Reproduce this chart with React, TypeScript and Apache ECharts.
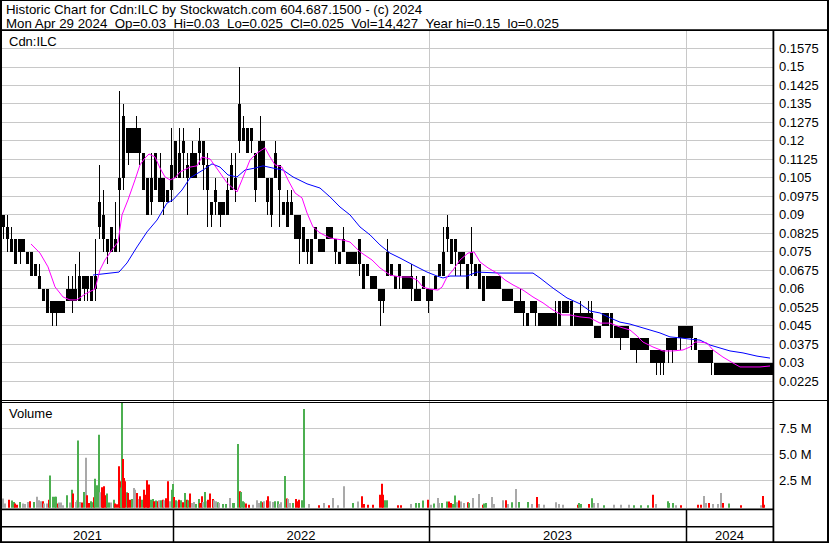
import React, { useEffect, useRef } from "react";
import * as echarts from "echarts";

const TITLE = "Historic Chart for Cdn:ILC by Stockwatch.com 604.687.1500 - (c) 2024";
const QUOTE = "Mon Apr 29 2024  Op=0.03  Hi=0.03  Lo=0.025  Cl=0.025  Vol=14,427  Year hi=0.15  lo=0.025";
const SYMBOL = "Cdn:ILC";
const VOLUME_TITLE = "Volume";

const DAYS_PER_BAR = 4; // each drawn bar groups 4 trading days
const TOTAL_DAYS = 771;
const YEARS = ["2021", "2022", "2023", "2024"];
const YEAR_STARTS = [171, 427, 684]; // trading-day index where 2022, 2023, 2024 begin

// Price bars (one per 4 trading days): dense range (body) and extremes (wicks)
const bodyLow = [
  0.085, 0.08, 0.075, 0.07, 0.075, 0.075, 0.07, 0.065, 0.065, 0.06,
  0.055, 0.05, 0.05, 0.05, 0.05, 0.05, 0.055, 0.055, 0.055, 0.055,
  0.06, 0.06, 0.055, 0.06, 0.085, 0.08, 0.075, 0.075, 0.075, 0.10,
  0.105, 0.115, 0.115, 0.115, 0.115, 0.10, 0.09, 0.095, 0.10, 0.095,
  0.095, 0.095, 0.10, 0.105, 0.105, 0.115, 0.105, 0.105, 0.105, 0.115,
  0.11, 0.10, 0.09, 0.095, 0.09, 0.09, 0.09, 0.10, 0.10, 0.12,
  0.12, 0.115, 0.12, 0.10, 0.105, 0.105, 0.095, 0.09, 0.105, 0.10,
  0.09, 0.085, 0.09, 0.08, 0.08, 0.075, 0.075, 0.07, 0.08, 0.075,
  0.075, 0.08, 0.08, 0.075, 0.07, 0.075, 0.07, 0.07, 0.07, 0.07,
  0.06, 0.065, 0.06, 0.06, 0.055, 0.055, 0.065, 0.065, 0.06, 0.065,
  0.06, 0.06, 0.06, 0.055, 0.055, 0.06, 0.055, 0.055, 0.06, 0.065,
  0.065, 0.08, 0.07, 0.075, 0.07, 0.07, 0.06, 0.07, 0.065, 0.06,
  0.055, 0.06, 0.06, 0.06, 0.06, 0.055, 0.055, 0.055, 0.05, 0.05,
  0.05, 0.045, 0.05, 0.05, 0.045, 0.045, 0.045, 0.045, 0.045, 0.045,
  0.05, 0.05, 0.045, 0.045, 0.045, 0.045, 0.045, 0.045, 0.04, 0.04,
  0.045, 0.045, 0.04, 0.04, 0.04, 0.04, 0.04, 0.035, 0.035, 0.035,
  0.035, 0.035, 0.03, 0.03, 0.03, 0.03, 0.035, 0.035, 0.035, 0.04,
  0.04, 0.04, 0.04, 0.035, 0.03, 0.03, 0.03, 0.03, 0.025, 0.025,
  0.025, 0.025, 0.025, 0.025, 0.025, 0.025, 0.025, 0.025, 0.025, 0.025,
  0.025, 0.025, 0.025,
];
const bodyHigh = [
  0.09, 0.085, 0.08, 0.08, 0.08, 0.08, 0.075, 0.075, 0.07, 0.065,
  0.06, 0.06, 0.055, 0.055, 0.055, 0.055, 0.06, 0.06, 0.06, 0.065,
  0.065, 0.065, 0.065, 0.065, 0.095, 0.09, 0.08, 0.085, 0.08, 0.105,
  0.13, 0.125, 0.125, 0.125, 0.125, 0.115, 0.105, 0.105, 0.115, 0.105,
  0.105, 0.10, 0.11, 0.12, 0.115, 0.12, 0.11, 0.115, 0.115, 0.12,
  0.12, 0.11, 0.095, 0.10, 0.095, 0.095, 0.10, 0.11, 0.105, 0.135,
  0.125, 0.125, 0.125, 0.115, 0.12, 0.12, 0.105, 0.105, 0.115, 0.11,
  0.095, 0.095, 0.095, 0.09, 0.09, 0.085, 0.08, 0.08, 0.085, 0.08,
  0.08, 0.085, 0.085, 0.08, 0.075, 0.08, 0.075, 0.075, 0.075, 0.08,
  0.07, 0.07, 0.065, 0.065, 0.06, 0.06, 0.075, 0.07, 0.065, 0.07,
  0.065, 0.065, 0.065, 0.06, 0.06, 0.065, 0.06, 0.06, 0.065, 0.07,
  0.075, 0.085, 0.08, 0.08, 0.075, 0.075, 0.07, 0.075, 0.07, 0.07,
  0.065, 0.065, 0.065, 0.065, 0.065, 0.06, 0.06, 0.06, 0.055, 0.055,
  0.055, 0.05, 0.055, 0.055, 0.05, 0.05, 0.05, 0.05, 0.05, 0.055,
  0.055, 0.055, 0.055, 0.05, 0.05, 0.05, 0.05, 0.05, 0.045, 0.045,
  0.05, 0.05, 0.05, 0.045, 0.045, 0.045, 0.045, 0.04, 0.04, 0.04,
  0.04, 0.04, 0.035, 0.035, 0.035, 0.035, 0.04, 0.04, 0.04, 0.045,
  0.045, 0.045, 0.045, 0.04, 0.035, 0.035, 0.035, 0.035, 0.03, 0.03,
  0.03, 0.03, 0.03, 0.03, 0.03, 0.03, 0.03, 0.03, 0.03, 0.03,
  0.03, 0.03, 0.03,
];
const lowPrice = [
  0.08, 0.075, 0.075, 0.07, 0.07, 0.075, 0.07, 0.065, 0.065, 0.06,
  0.055, 0.05, 0.045, 0.045, 0.05, 0.05, 0.055, 0.05, 0.055, 0.055,
  0.055, 0.055, 0.055, 0.055, 0.08, 0.075, 0.07, 0.075, 0.075, 0.075,
  0.10, 0.11, 0.115, 0.115, 0.11, 0.10, 0.09, 0.09, 0.10, 0.095,
  0.09, 0.095, 0.095, 0.105, 0.105, 0.105, 0.09, 0.105, 0.105, 0.11,
  0.10, 0.085, 0.085, 0.09, 0.085, 0.09, 0.09, 0.10, 0.095, 0.115,
  0.12, 0.115, 0.115, 0.095, 0.105, 0.105, 0.09, 0.085, 0.105, 0.085,
  0.09, 0.085, 0.09, 0.08, 0.07, 0.075, 0.07, 0.07, 0.08, 0.075,
  0.075, 0.08, 0.08, 0.07, 0.07, 0.075, 0.07, 0.07, 0.07, 0.065,
  0.06, 0.065, 0.06, 0.06, 0.045, 0.05, 0.065, 0.065, 0.06, 0.06,
  0.06, 0.06, 0.055, 0.055, 0.055, 0.06, 0.05, 0.055, 0.06, 0.065,
  0.065, 0.075, 0.07, 0.065, 0.065, 0.07, 0.06, 0.065, 0.065, 0.06,
  0.055, 0.06, 0.06, 0.06, 0.06, 0.055, 0.055, 0.055, 0.05, 0.05,
  0.045, 0.045, 0.05, 0.045, 0.045, 0.045, 0.045, 0.045, 0.045, 0.045,
  0.05, 0.05, 0.045, 0.045, 0.045, 0.045, 0.045, 0.045, 0.04, 0.04,
  0.045, 0.045, 0.04, 0.04, 0.035, 0.04, 0.04, 0.035, 0.03, 0.035,
  0.035, 0.035, 0.03, 0.025, 0.025, 0.025, 0.03, 0.03, 0.035, 0.035,
  0.04, 0.04, 0.035, 0.035, 0.03, 0.03, 0.03, 0.025, 0.025, 0.025,
  0.025, 0.025, 0.025, 0.025, 0.025, 0.025, 0.025, 0.025, 0.025, 0.025,
  0.025, 0.025, 0.025,
];
const highPrice = [
  0.09, 0.09, 0.085, 0.08, 0.08, 0.08, 0.075, 0.075, 0.07, 0.07,
  0.06, 0.06, 0.055, 0.055, 0.055, 0.055, 0.065, 0.065, 0.07, 0.075,
  0.065, 0.065, 0.065, 0.08, 0.11, 0.10, 0.08, 0.085, 0.095, 0.14,
  0.135, 0.125, 0.125, 0.13, 0.125, 0.115, 0.105, 0.115, 0.115, 0.115,
  0.105, 0.10, 0.125, 0.12, 0.125, 0.125, 0.115, 0.12, 0.115, 0.125,
  0.12, 0.115, 0.095, 0.105, 0.095, 0.095, 0.105, 0.115, 0.115, 0.15,
  0.13, 0.125, 0.125, 0.115, 0.13, 0.12, 0.105, 0.105, 0.12, 0.11,
  0.095, 0.10, 0.10, 0.09, 0.09, 0.085, 0.08, 0.08, 0.085, 0.08,
  0.08, 0.085, 0.085, 0.08, 0.075, 0.085, 0.075, 0.075, 0.075, 0.08,
  0.07, 0.07, 0.065, 0.065, 0.06, 0.06, 0.08, 0.07, 0.065, 0.07,
  0.065, 0.065, 0.07, 0.065, 0.06, 0.065, 0.06, 0.06, 0.065, 0.07,
  0.085, 0.09, 0.08, 0.08, 0.075, 0.075, 0.07, 0.085, 0.07, 0.07,
  0.065, 0.065, 0.065, 0.065, 0.065, 0.06, 0.06, 0.06, 0.055, 0.06,
  0.055, 0.05, 0.055, 0.055, 0.05, 0.05, 0.05, 0.05, 0.055, 0.055,
  0.055, 0.055, 0.055, 0.05, 0.055, 0.05, 0.055, 0.055, 0.045, 0.045,
  0.05, 0.05, 0.05, 0.045, 0.045, 0.045, 0.045, 0.04, 0.04, 0.04,
  0.04, 0.04, 0.035, 0.035, 0.035, 0.035, 0.04, 0.04, 0.04, 0.045,
  0.045, 0.045, 0.045, 0.04, 0.035, 0.035, 0.035, 0.035, 0.03, 0.03,
  0.03, 0.03, 0.03, 0.03, 0.03, 0.03, 0.03, 0.03, 0.03, 0.03,
  0.03, 0.03, 0.03,
];

// Moving averages: [trading day, price]
const shortMA: [number, number][] = [
  [29, 0.0781], [38, 0.0744], [46, 0.0688], [53, 0.0607], [61, 0.0566], [68, 0.0554], [75, 0.0554],
  [83, 0.0578], [93, 0.0598], [98, 0.0676], [103, 0.0716], [110, 0.0757], [116, 0.0789], [120, 0.0899],
  [126, 0.096], [133, 0.1041], [138, 0.1102], [143, 0.113], [147, 0.1146], [153, 0.1134], [158, 0.1089],
  [163, 0.1053], [168, 0.1041], [173, 0.1049], [178, 0.1073], [188, 0.1093], [195, 0.1098], [200, 0.1134],
  [208, 0.1126], [216, 0.1081], [225, 0.1029], [235, 0.0992], [240, 0.1041], [248, 0.1122], [255, 0.115],
  [263, 0.1171], [268, 0.1134], [273, 0.1102], [280, 0.1093], [286, 0.1041], [293, 0.0988], [300, 0.0968],
  [305, 0.0907], [311, 0.085], [318, 0.0826], [328, 0.0805], [341, 0.0797], [348, 0.0789], [358, 0.0749],
  [370, 0.0716], [378, 0.0684], [388, 0.0655], [398, 0.0647], [408, 0.0647], [415, 0.0635], [421, 0.0606],
  [428, 0.0598], [436, 0.0594], [440, 0.0606], [445, 0.0647], [451, 0.0675], [458, 0.0716], [466, 0.0744],
  [472, 0.0749], [478, 0.0708], [486, 0.0684], [495, 0.0663], [503, 0.0635], [511, 0.0615], [521, 0.0594],
  [531, 0.0566], [541, 0.0542], [551, 0.0513], [560, 0.0493], [568, 0.0493], [578, 0.0485], [588, 0.0481],
  [598, 0.046], [608, 0.046], [618, 0.0444], [628, 0.0432], [635, 0.0408], [641, 0.0383], [651, 0.0363],
  [661, 0.0347], [671, 0.0347], [681, 0.0351], [688, 0.0363], [693, 0.0383], [698, 0.0383], [705, 0.0379],
  [711, 0.0351], [721, 0.0322], [731, 0.0298], [738, 0.0282], [748, 0.0282], [758, 0.0282], [768, 0.0286],
];
const longMA: [number, number][] = [
  [91, 0.0655], [117, 0.0667], [125, 0.0704], [135, 0.0769], [145, 0.083], [155, 0.0878], [165, 0.0947],
  [171, 0.096], [180, 0.1], [188, 0.1049], [201, 0.1081], [210, 0.1106], [218, 0.1093], [226, 0.1061],
  [235, 0.1053], [243, 0.1081], [253, 0.1089], [261, 0.1098], [271, 0.1089], [281, 0.1081], [291, 0.1053],
  [305, 0.1025], [318, 0.1008], [328, 0.0972], [338, 0.0931], [348, 0.0899], [358, 0.085], [368, 0.0818],
  [378, 0.0777], [388, 0.0744], [398, 0.0724], [411, 0.0696], [425, 0.0667], [435, 0.0651], [441, 0.0643],
  [448, 0.0651], [465, 0.0651], [475, 0.0667], [498, 0.0663], [531, 0.0663], [538, 0.0643], [551, 0.0602],
  [565, 0.0562], [578, 0.0538], [588, 0.0509], [598, 0.0501], [608, 0.0481], [618, 0.0464], [628, 0.0456],
  [638, 0.0444], [648, 0.0432], [658, 0.042], [668, 0.0404], [678, 0.04], [688, 0.0395], [698, 0.0391],
  [708, 0.0371], [718, 0.0359], [728, 0.0347], [741, 0.0339], [755, 0.0326], [768, 0.0318],
];

// Volume: [trading day, millions of shares, colour code g=up r=down n=unchanged]
const volumes: [number, number, string][] = [
  [0, 0.74, "n"], [2, 0.26, "n"], [6, 0.64, "r"], [9, 0.55, "g"], [11, 0.41, "g"], [12, 0.26, "r"], [14, 0.16, "r"],
  [17, 0.41, "g"], [20, 0.26, "n"], [22, 0.22, "n"], [25, 0.41, "n"], [27, 0.48, "r"], [31, 0.41, "g"], [34, 0.93, "n"],
  [36, 0.58, "n"], [38, 0.48, "n"], [40, 0.48, "r"], [41, 0.26, "n"], [44, 0.26, "n"], [46, 0.64, "r"], [47, 2.95, "g"],
  [50, 0.93, "g"], [52, 0.93, "g"], [53, 0.93, "g"], [55, 0.26, "r"], [56, 0.36, "n"], [58, 0.36, "n"], [60, 0.1, "n"],
  [64, 1.06, "g"], [67, 0.36, "n"], [69, 1.6, "g"], [70, 1.22, "r"], [73, 0.41, "n"], [74, 0.58, "n"], [75, 6.32, "g"],
  [77, 0.41, "n"], [79, 0.36, "r"], [81, 1.38, "g"], [83, 4.68, "n"], [84, 1.06, "r"], [86, 0.32, "r"], [88, 0.48, "g"],
  [89, 0.38, "g"], [91, 0.87, "r"], [92, 2.66, "g"], [94, 2.02, "g"], [96, 6.89, "g"], [97, 1.35, "n"], [99, 1.83, "r"],
  [100, 1.22, "r"], [101, 1.92, "r"], [103, 1.06, "r"], [104, 1.22, "g"], [106, 0.36, "g"], [108, 0.36, "n"], [111, 0.64, "g"],
  [112, 0.26, "r"], [114, 0.19, "r"], [116, 3.85, "r"], [117, 2.4, "r"], [118, 1.8, "g"], [119, 9.93, "g"], [120, 4.55, "r"],
  [121, 2.72, "r"], [122, 2.4, "r"], [124, 1.35, "g"], [125, 1.28, "r"], [127, 0.64, "r"], [129, 0.7, "g"], [131, 1.76, "n"],
  [132, 1.6, "n"], [134, 1.28, "r"], [136, 0.7, "n"], [137, 0.96, "r"], [139, 0.64, "g"], [141, 1.6, "r"], [142, 1.12, "r"],
  [144, 2.5, "r"], [145, 1.54, "r"], [146, 2.09, "r"], [148, 0.64, "g"], [150, 0.7, "g"], [151, 0.48, "r"], [153, 0.55, "g"],
  [155, 0.48, "r"], [156, 0.58, "n"], [158, 0.58, "g"], [160, 0.64, "r"], [161, 0.58, "n"], [163, 0.77, "r"], [165, 2.4, "r"],
  [167, 0.48, "n"], [169, 1.6, "g"], [170, 2.15, "g"], [171, 0.9, "r"], [173, 0.58, "g"], [175, 0.48, "n"], [176, 0.64, "r"],
  [178, 0.58, "g"], [180, 0.38, "r"], [182, 1.28, "g"], [184, 0.64, "r"], [185, 0.58, "g"], [187, 1.22, "r"], [189, 0.32, "n"],
  [191, 0.41, "n"], [193, 0.22, "g"], [196, 0.7, "g"], [197, 0.32, "r"], [199, 0.96, "r"], [200, 0.41, "n"], [202, 1.38, "g"],
  [204, 0.48, "n"], [205, 0.64, "r"], [207, 1.22, "r"], [210, 0.7, "r"], [211, 0.58, "n"], [213, 0.48, "n"], [215, 0.38, "g"],
  [216, 0.32, "n"], [220, 0.22, "g"], [223, 0.22, "g"], [227, 0.8, "n"], [230, 0.32, "g"], [231, 0.32, "g"], [235, 5.99, "g"],
  [237, 1.44, "r"], [238, 1.38, "g"], [240, 0.48, "g"], [241, 0.38, "g"], [243, 0.26, "r"], [246, 0.16, "r"], [250, 0.16, "n"],
  [254, 0.58, "n"], [256, 0.32, "n"], [258, 0.48, "g"], [260, 0.38, "r"], [261, 0.48, "n"], [264, 0.58, "r"], [265, 0.96, "r"],
  [267, 0.48, "n"], [270, 0.41, "n"], [272, 0.48, "g"], [275, 0.48, "g"], [276, 0.22, "n"], [278, 0.38, "n"], [282, 2.91, "g"],
  [284, 0.74, "r"], [285, 0.7, "n"], [287, 0.32, "n"], [290, 0.32, "g"], [293, 0.7, "r"], [295, 0.48, "r"], [296, 0.64, "r"],
  [299, 0.58, "g"], [301, 9.36, "g"], [306, 0.22, "n"], [316, 0.1, "r"], [321, 0.32, "n"], [326, 0.1, "r"], [330, 0.8, "n"],
  [335, 0.1, "n"], [341, 1.92, "n"], [350, 0.32, "g"], [355, 0.45, "n"], [359, 0.96, "r"], [361, 0.22, "r"], [365, 0.16, "r"],
  [370, 0.16, "r"], [377, 1.12, "r"], [379, 2.18, "r"], [380, 1.12, "r"], [382, 0.58, "g"], [384, 0.58, "g"], [395, 0.1, "r"],
  [398, 0.1, "r"], [408, 0.22, "n"], [413, 0.32, "g"], [416, 0.32, "g"], [420, 0.55, "g"], [425, 0.64, "r"], [428, 0.16, "n"],
  [431, 0.26, "g"], [435, 0.8, "n"], [436, 0.32, "n"], [439, 0.32, "g"], [444, 0.45, "g"], [446, 0.45, "r"], [448, 0.32, "r"],
  [450, 0.22, "g"], [452, 1.03, "g"], [454, 0.38, "n"], [456, 0.55, "r"], [458, 0.45, "n"], [461, 0.32, "n"], [465, 0.38, "r"],
  [466, 0.32, "g"], [470, 0.8, "n"], [476, 1.18, "n"], [480, 0.16, "r"], [481, 0.26, "g"], [483, 0.32, "g"], [489, 0.9, "n"],
  [491, 0.22, "n"], [500, 0.58, "n"], [503, 0.58, "r"], [505, 0.22, "n"], [509, 0.38, "g"], [513, 1.66, "n"], [516, 0.41, "g"],
  [525, 0.41, "g"], [529, 0.22, "n"], [534, 0.9, "r"], [536, 0.22, "n"], [541, 0.16, "n"], [553, 0.38, "n"], [556, 0.22, "n"],
  [560, 0.16, "n"], [575, 0.16, "r"], [576, 0.32, "g"], [578, 0.22, "g"], [586, 0.22, "r"], [589, 0.77, "g"], [591, 0.32, "n"],
  [595, 0.32, "n"], [601, 0.1, "g"], [611, 0.16, "n"], [618, 0.16, "n"], [626, 0.16, "n"], [631, 0.1, "g"], [638, 0.1, "g"],
  [645, 0.1, "g"], [650, 1.12, "r"], [653, 0.22, "n"], [665, 0.48, "g"], [666, 0.32, "g"], [670, 0.32, "g"], [673, 0.1, "n"],
  [678, 0.1, "r"], [695, 0.16, "r"], [698, 0.16, "r"], [701, 0.99, "n"], [703, 0.32, "n"], [706, 0.32, "r"], [710, 0.22, "n"],
  [715, 0.22, "n"], [718, 1.28, "n"], [720, 0.32, "r"], [726, 0.26, "g"], [738, 0.1, "r"], [758, 0.1, "n"], [760, 0.99, "r"],
  [761, 0.16, "r"],
];

const VOL_COLORS: Record<string, string> = { g: "#4caf50", r: "#ff0000", n: "#a9a9a9" };
const FONT = '"Liberation Sans", Arial, Helvetica, sans-serif';
const GRID_COLOR = "#c8c8c8";

const PRICE_MIN = 0.015;
const PRICE_MAX = 0.165;
const PRICE_STEP = 0.0075;
const VOL_MAX = 10e6;
const VOL_STEP = 2.5e6;

export default function App() {
  const ref = useRef<HTMLDivElement>(null);

  useEffect(() => {
    if (!ref.current) return;
    const chart = echarts.init(ref.current, undefined, { renderer: "svg" });

    const candleData = bodyLow.map((_, i) => [i * DAYS_PER_BAR, bodyLow[i], bodyHigh[i], lowPrice[i], highPrice[i]]);
    const volData = volumes.map(([d, m, c]) => ({ value: [d, m * 1e6], itemStyle: { color: VOL_COLORS[c] } }));

    const labelStyle = { color: "#000", fontSize: 13, fontFamily: FONT, margin: 6 };

    chart.setOption({
      animation: false,
      backgroundColor: "#fff",
      grid: [
        { left: 2, top: 29.8, width: 771, height: 369.7 },
        { left: 2, top: 402.3, width: 771, height: 104 },
      ],
      xAxis: [
        { type: "value", gridIndex: 0, min: 0, max: TOTAL_DAYS, show: false },
        { type: "value", gridIndex: 1, min: 0, max: TOTAL_DAYS, show: false },
      ],
      yAxis: [
        {
          type: "value",
          gridIndex: 0,
          position: "right",
          min: PRICE_MIN,
          max: PRICE_MAX,
          interval: PRICE_STEP,
          axisLine: { show: false },
          axisTick: { show: false },
          axisLabel: {
            ...labelStyle,
            showMinLabel: false,
            showMaxLabel: false,
            formatter: (v: number) =>
              v <= PRICE_MIN + 1e-9 || v >= PRICE_MAX - 1e-9 ? "" : String(Number(v.toFixed(4))),
          },
          splitLine: { show: true, showMinLine: false, showMaxLine: false, lineStyle: { color: GRID_COLOR, width: 1 } },
        },
        {
          type: "value",
          gridIndex: 1,
          position: "right",
          min: 0,
          max: VOL_MAX,
          interval: VOL_STEP,
          axisLine: { show: false },
          axisTick: { show: false },
          axisLabel: {
            ...labelStyle,
            showMinLabel: false,
            showMaxLabel: false,
            formatter: (v: number) => (v <= 0 || v >= VOL_MAX ? "" : (v / 1e6).toFixed(1) + " M"),
          },
          splitLine: { show: true, showMinLine: false, showMaxLine: false, lineStyle: { color: GRID_COLOR, width: 1 } },
        },
      ],
      series: [
        {
          type: "custom",
          xAxisIndex: 0,
          yAxisIndex: 0,
          z: 3,
          data: candleData,
          encode: { x: 0, y: [1, 2, 3, 4] },
          renderItem: (params: any, api: any) => {
            const i = params.dataIndex;
            const d = api.value(0);
            const x0 = Math.round(api.coord([d, PRICE_MIN])[0]);
            const x1 = Math.round(api.coord([d + DAYS_PER_BAR, PRICE_MIN])[0]);
            // leave a hairline gap where the next bar trades at a different range
            const next = i + 1 < bodyLow.length;
            const sameNext = next && bodyLow[i + 1] === bodyLow[i] && bodyHigh[i + 1] === bodyHigh[i];
            const w = Math.max(1, x1 - x0 - (sameNext ? 0 : 1));
            const yBLo = Math.round(api.coord([d, api.value(1)])[1]);
            const yBHi = Math.round(api.coord([d, api.value(2)])[1]);
            const yLo = Math.round(api.coord([d, api.value(3)])[1]);
            const yHi = Math.round(api.coord([d, api.value(4)])[1]);
            const cx = x0 + Math.floor(w / 2);
            return {
              type: "group",
              children: [
                { type: "rect", shape: { x: x0, y: yBHi, width: w, height: Math.max(1, yBLo - yBHi) }, style: { fill: "#000" } },
                { type: "rect", shape: { x: cx, y: yHi, width: 1, height: Math.max(1, yLo - yHi) }, style: { fill: "#000" } },
              ],
            };
          },
        },
        {
          type: "line",
          xAxisIndex: 0,
          yAxisIndex: 0,
          z: 4,
          data: longMA,
          showSymbol: false,
          symbol: "none",
          lineStyle: { color: "#0000ff", width: 1 },
        },
        {
          type: "line",
          xAxisIndex: 0,
          yAxisIndex: 0,
          z: 5,
          data: shortMA,
          showSymbol: false,
          symbol: "none",
          lineStyle: { color: "#ff00ff", width: 1 },
        },
        {
          type: "custom",
          xAxisIndex: 1,
          yAxisIndex: 1,
          z: 3,
          data: volData,
          encode: { x: 0, y: 1 },
          renderItem: (params: any, api: any) => {
            const p = api.coord([api.value(0), api.value(1)]);
            const base = api.coord([api.value(0), 0]);
            const x = Math.round(p[0]);
            return {
              type: "rect",
              shape: { x, y: p[1], width: 2, height: base[1] - p[1] + 1.5 },
              style: { fill: api.visual("color") },
            };
          },
        },
      ],
    });

    const px = (d: number) => chart.convertToPixel({ xAxisIndex: 0 }, d) as number;
    const bounds = [0, ...YEAR_STARTS, TOTAL_DAYS];
    const yearX = YEAR_STARTS.map((d) => Math.round(px(d)) + 0.5);

    const textEl = (text: string, x: number, y: number, size: number, align = "left") => ({
      type: "text",
      x,
      y,
      z: 50,
      style: {
        text,
        font: `${size}px ${FONT}`,
        fill: "#000",
        align,
        verticalAlign: "middle",
        lineHeight: 13,
      },
    });
    const blk = (x: number, y: number, width: number, height: number) => ({
      type: "rect",
      z: 60,
      shape: { x, y, width, height },
      style: { fill: "#000" },
    });

    const graphics: any[] = [];
    // year gridlines through price and volume panes
    yearX.forEach((x) => {
      graphics.push({
        type: "line",
        z: 1,
        shape: { x1: x, y1: 31, x2: x, y2: 508 },
        style: { stroke: GRID_COLOR, lineWidth: 1 },
      });
      graphics.push(blk(x - 0.75, 509, 1.5, 33));
    });
    // frame
    graphics.push(blk(0, 0, 829, 1));
    graphics.push(blk(0, 0, 2, 543));
    graphics.push(blk(827, 0, 2, 543));
    graphics.push(blk(0, 29.3, 829, 1.8));
    graphics.push(blk(772.5, 30, 1.8, 513));
    graphics.push(blk(0, 400, 829, 1));
    graphics.push(blk(0, 402, 773, 1));
    graphics.push(blk(0, 508.6, 773, 1.6));
    graphics.push(blk(0, 526, 773, 1.5));
    graphics.push(blk(0, 541.2, 829, 1.8));
    // texts
    graphics.push(textEl(TITLE, 6, 9.5, 13.3));
    graphics.push(textEl(QUOTE.replace(/  /g, " \u00a0"), 6, 23, 13.3));
    graphics.push(textEl(SYMBOL, 9, 41.5, 13));
    graphics.push(textEl(VOLUME_TITLE, 9, 413.5, 13));
    YEARS.forEach((y, k) => {
      const cx = (px(bounds[k]) + px(bounds[k + 1])) / 2;
      graphics.push(textEl(y, cx, 535, 13, "center"));
    });

    chart.setOption({ graphic: { elements: graphics } });

    return () => chart.dispose();
  }, []);

  return (
    <div
      ref={ref}
      style={{ position: "fixed", left: 0, top: 0, width: 830, height: 543, background: "#fff" }}
    />
  );
}
